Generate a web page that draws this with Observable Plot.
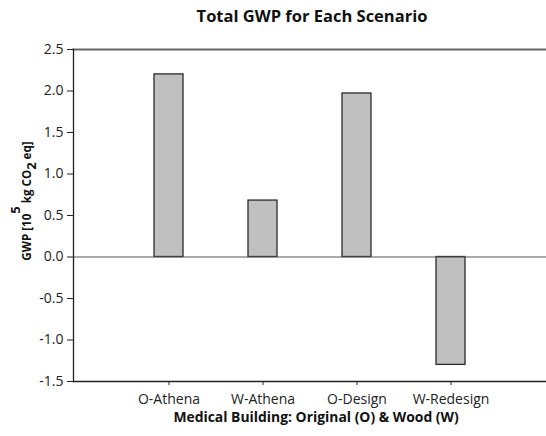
<!DOCTYPE html>
<html><head><meta charset="utf-8">
<script src="https://cdn.jsdelivr.net/npm/d3@7"></script>
<script src="https://cdn.jsdelivr.net/npm/@observablehq/plot@0.6"></script>
<style>body{margin:0;background:#fff} svg{display:block}</style>
</head><body><div id="chart"></div>
<script>
const categories = ["O-Athena", "W-Athena", "O-Design", "W-Redesign"];
const gwp = [2.20, 0.68, 1.97, -1.30];
const yTicks = [-1.5, -1.0, -0.5, 0, 0.5, 1.0, 1.5, 2.0, 2.5];
const title = "Total GWP for Each Scenario";
const xLabel = "Medical Building: Original (O) & Wood (W)";

const data = categories.map((c, i) => ({scenario: c, value: gwp[i]}));
const font = "'Open Sans', sans-serif";

const chart = Plot.plot({
  width: 546, height: 436,
  marginLeft: 73, marginRight: 0, marginTop: 49, marginBottom: 55,
  style: {fontFamily: font, fontSize: "14px", color: "#222", background: "#fff"},
  x: {domain: categories, paddingInner: 0.695, paddingOuter: 0.84, label: null},
  y: {domain: [-1.5, 2.5], label: null},
  marks: [
    Plot.barY(data, {x: "scenario", y: "value", fill: "#c0c0c0", stroke: "#2a2a2a", strokeWidth: 1.3}),
    Plot.ruleY([0], {stroke: "#555", strokeWidth: 1}),
    Plot.frame({anchor: "top", stroke: "#666", strokeWidth: 2}),
    Plot.frame({anchor: "left", stroke: "#222", strokeWidth: 1.3}),
    Plot.frame({anchor: "bottom", stroke: "#222", strokeWidth: 1.3}),
    Plot.axisY({ticks: yTicks, tickFormat: d => d.toFixed(1), tickSize: 6, tickPadding: 4, label: null, fontSize: 14}),
    Plot.axisX({tickSize: 4, tickPadding: 9, label: null, fontSize: 14}),
    Plot.text([title], {frameAnchor: "top", dy: -33, dx: 2, fontWeight: "bold", fontSize: 16.5, lineAnchor: "middle", fill: "#111"}),
    Plot.text([xLabel], {frameAnchor: "bottom", dy: 36, dx: 6, fontWeight: "bold", fontSize: 13.9, lineAnchor: "middle", fill: "#111"})
  ]
});
document.getElementById("chart").appendChild(chart);

// rotated y-axis label with superscript and subscript
const svg = d3.select(chart);
const t = svg.append("text")
  .attr("transform", "translate(31,201) rotate(-90)")
  .attr("text-anchor", "middle")
  .attr("font-family", font)
  .attr("font-weight", "bold")
  .attr("font-size", 11.6)
  .attr("fill", "#111");
t.append("tspan").text("GWP [10");
t.append("tspan").attr("dy", -11).attr("font-size", 13).text("5");
t.append("tspan").attr("dy", 11).text(" kg CO");
t.append("tspan").attr("dy", 5).attr("font-size", 13).text("2");
t.append("tspan").attr("dy", -5).text(" eq]");
</script>
</body></html>
